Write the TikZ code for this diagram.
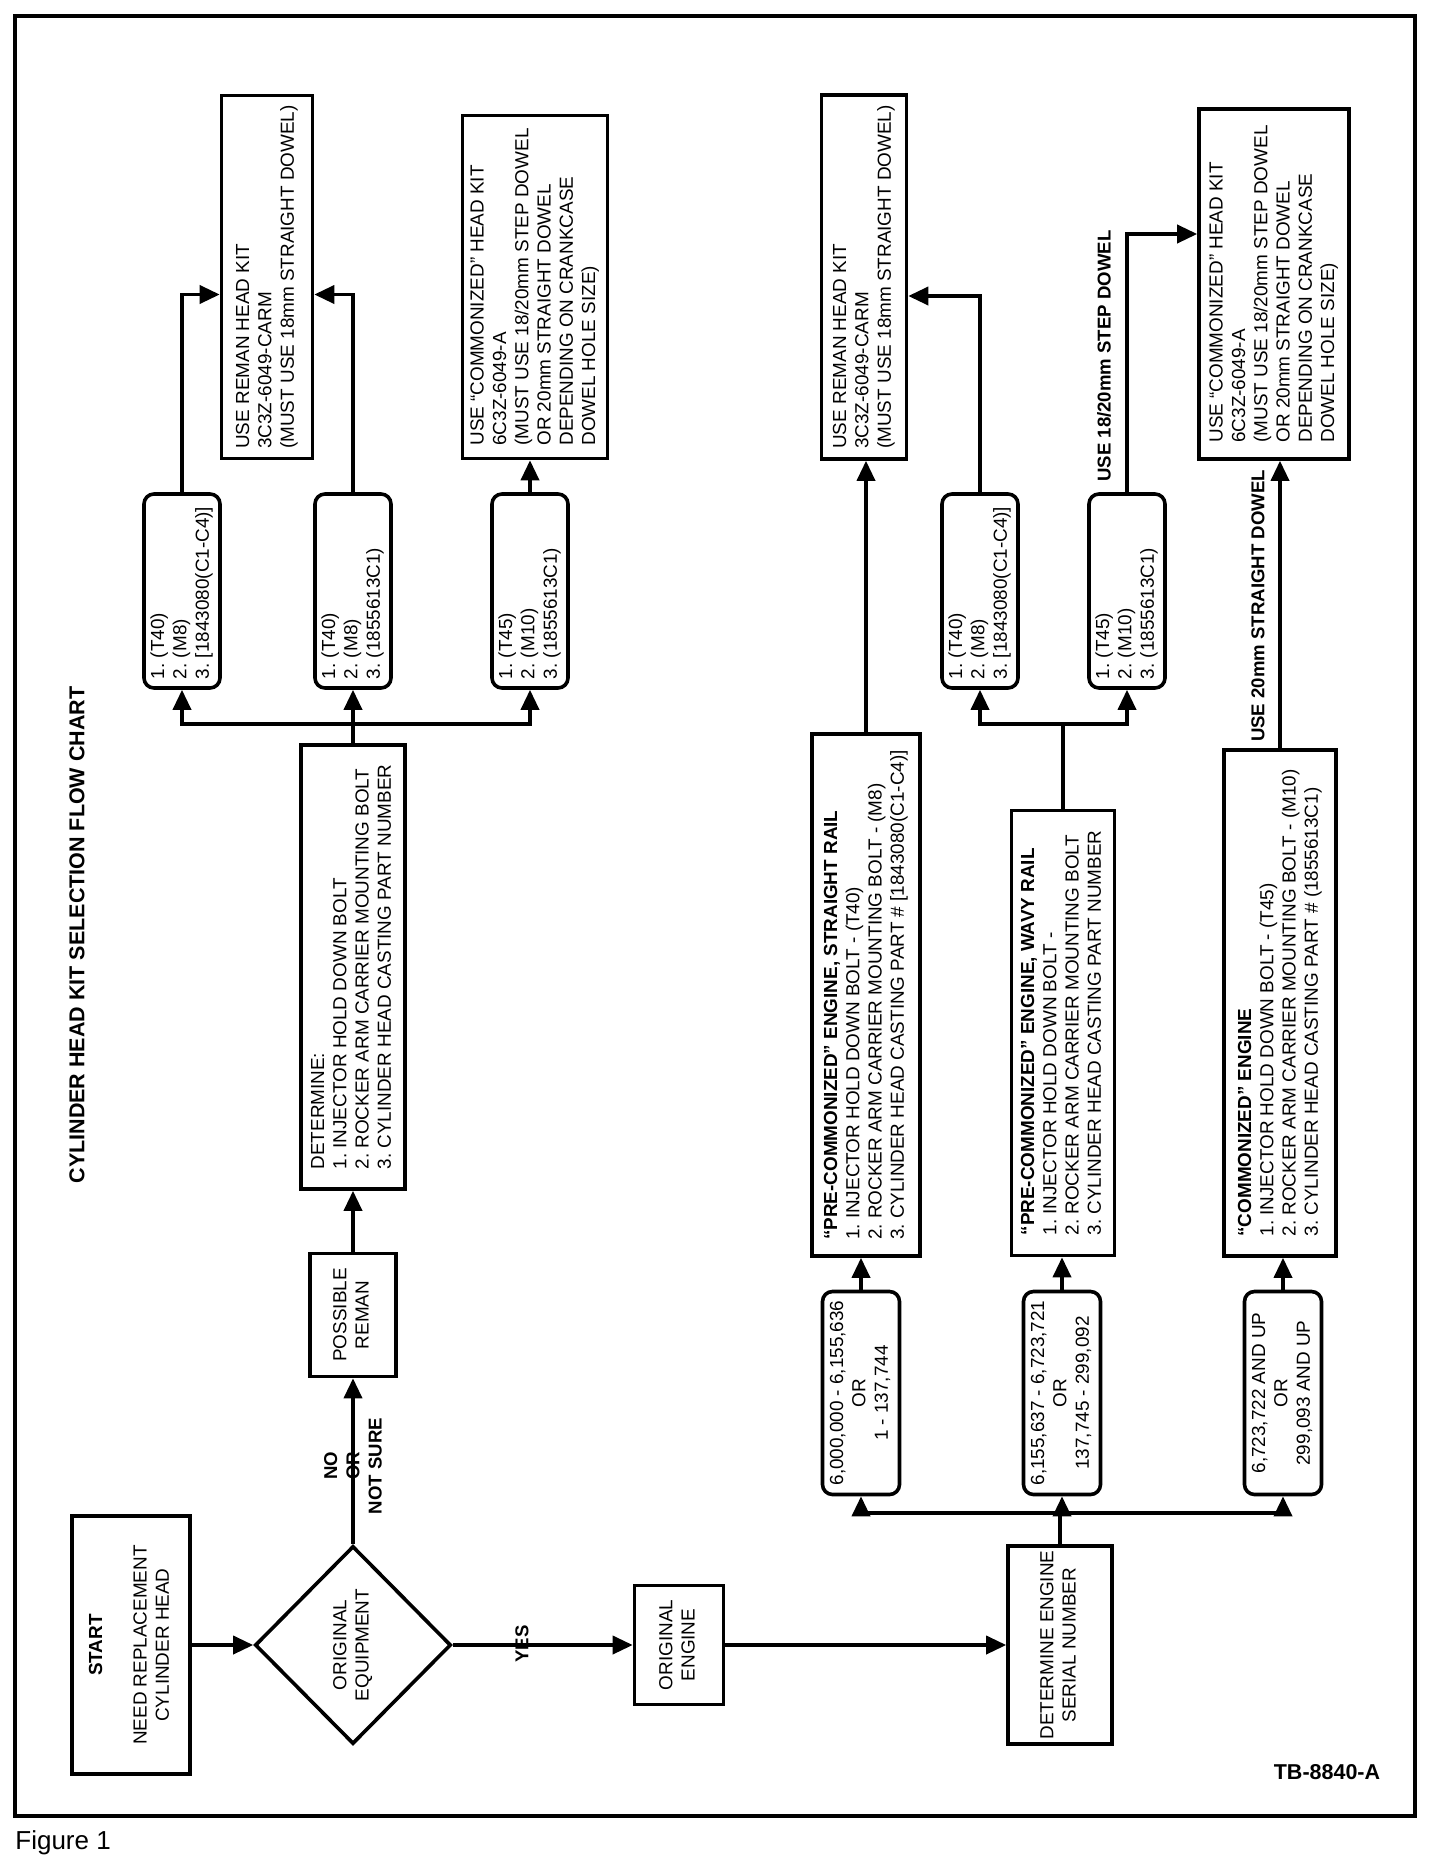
\documentclass[tikz,border=0pt]{standalone}
\usepackage{fontspec}
\setmainfont{Liberation Sans}
\usepackage{graphicx}
\usetikzlibrary{arrows.meta,shapes.geometric}

% text set bottom-to-top inside an upright box
\newcommand{\vtext}[2][c]{\rotatebox{90}{\begin{tabular}{@{}#1@{}}#2\end{tabular}}}

\tikzset{
  blk/.style={draw, line width=1.8pt, inner sep=0pt},
  rblk/.style={blk, rounded corners=5pt},
  dec/.style={blk, diamond},
  conn/.style={line width=1.8pt},
  arr/.style={conn, -{Triangle[length=10pt,width=9pt]}},
  lbl/.style={inner sep=0pt, font=\fontsize{9.3}{11.15}\selectfont\bfseries},
}

\begin{document}
\frenchspacing
\begin{tikzpicture}[x=0.5pt, y=-0.5pt, font=\fontsize{9.45}{11.15}\selectfont]
     \useasboundingbox (0,0) rectangle (1456,1874);
     \draw[line width=1.7pt] (15,16) rectangle (1415,1816);
     \node[lbl, rotate=90, font=\fontsize{10.75}{13}\selectfont\bfseries] (title) at (77,935)
      {CYLINDER HEAD KIT SELECTION FLOW CHART};
     \node[font=\fontsize{10.75}{13}\selectfont\bfseries] (tbno) at (1327,1772) {TB-8840-A};
     \node[anchor=base west, inner sep=0pt, font=\fontsize{13}{15}\selectfont] (fig) at (15,1849) {Figure 1};

     % left part
     \node[blk, minimum width=59pt, minimum height=129pt] (start) at (131,1645)
      {\vtext{\textbf{START}\\ \\NEED REPLACEMENT\\CYLINDER HEAD}};
     \node[dec, minimum width=98pt, minimum height=99pt] (oe) at (353,1645)
      {\vtext{ORIGINAL\\EQUIPMENT}};
     \node[blk, minimum width=43pt, minimum height=61.5pt] (prem) at (353,1315)
      {\vtext{POSSIBLE\\REMAN}};
     \node[blk, minimum width=52pt, minimum height=222pt] (det) at (353,967)
      {\vtext[l]{DETERMINE:\\1. INJECTOR HOLD DOWN BOLT\\2. ROCKER ARM CARRIER MOUNTING BOLT\\3. CYLINDER HEAD CASTING PART NUMBER}};
     \node[rblk, minimum width=38pt, minimum height=97pt] (A1) at (182,591)
      {\vtext[p{88pt}]{1. (T40)\\2. (M8)\\3. [1843080(C1-C4)]}};
     \node[rblk, minimum width=38pt, minimum height=97pt] (A2) at (353,591)
      {\vtext[p{88pt}]{1. (T40)\\2. (M8)\\3. (1855613C1)}};
     \node[rblk, minimum width=38pt, minimum height=97pt] (A3) at (530,591)
      {\vtext[p{88pt}]{1. (T45)\\2. (M10)\\3. (1855613C1)}};
     \node[blk, minimum width=45.5pt, minimum height=181.5pt] (kit1) at (267,277)
      {\vtext[l]{USE REMAN HEAD KIT\\3C3Z-6049-CARM\\(MUST USE 18mm STRAIGHT DOWEL)}};
     \node[blk, minimum width=72.5pt, minimum height=171.5pt] (kit2) at (535,287)
      {\vtext[l]{USE ``COMMONIZED'' HEAD KIT\\6C3Z-6049-A\\(MUST USE 18/20mm STEP DOWEL\\OR 20mm STRAIGHT DOWEL\\DEPENDING ON CRANKCASE\\DOWEL HOLE SIZE)}};

     % right part
     \node[blk, minimum width=44.5pt, minimum height=59.5pt] (oeng) at (679,1645)
      {\vtext{ORIGINAL\\ENGINE}};
     \node[blk, minimum width=52pt, minimum height=99pt] (deng) at (1060,1645)
      {\vtext{DETERMINE ENGINE\\SERIAL NUMBER}};
     \node[rblk, minimum width=38.5pt, minimum height=101.5pt] (B1) at (861,1393)
      {\vtext{6,000,000 - 6,155,636\\OR\\1 - 137,744}};
     \node[rblk, minimum width=38.5pt, minimum height=101.5pt] (B2) at (1062,1393)
      {\vtext{6,155,637 - 6,723,721\\OR\\137,745 - 299,092}};
     \node[rblk, minimum width=38.5pt, minimum height=101.5pt] (B3) at (1283,1393)
      {\vtext{6,723,722 AND UP\\OR\\299,093 AND UP}};
     \node[blk, minimum width=54pt, minimum height=261pt] (C1) at (866,995)
      {\vtext[l]{\textbf{``PRE-COMMONIZED'' ENGINE, STRAIGHT RAIL}\\1. INJECTOR HOLD DOWN BOLT - (T40)\\2. ROCKER ARM CARRIER MOUNTING BOLT - (M8)\\3. CYLINDER HEAD CASTING PART \# [1843080(C1-C4)]}};
     \node[blk, minimum width=51.5pt, minimum height=222.5pt] (C2) at (1063,1033)
      {\vtext[l]{\textbf{``PRE-COMMONIZED'' ENGINE, WAVY RAIL}\\1. INJECTOR HOLD DOWN BOLT -\\2. ROCKER ARM CARRIER MOUNTING BOLT\\3. CYLINDER HEAD CASTING PART NUMBER}};
     \node[blk, minimum width=56pt, minimum height=253pt] (C3) at (1280,1003)
      {\vtext[l]{\textbf{``COMMONIZED'' ENGINE}\\1. INJECTOR HOLD DOWN BOLT - (T45)\\2. ROCKER ARM CARRIER MOUNTING BOLT - (M10)\\3. CYLINDER HEAD CASTING PART \# (1855613C1)}};
     \node[rblk, minimum width=38pt, minimum height=97pt] (D1) at (980,591)
      {\vtext[p{88pt}]{1. (T40)\\2. (M8)\\3. [1843080(C1-C4)]}};
     \node[rblk, minimum width=38pt, minimum height=97pt] (D2) at (1127,591)
      {\vtext[p{88pt}]{1. (T45)\\2. (M10)\\3. (1855613C1)}};
     \node[blk, minimum width=42.5pt, minimum height=182pt] (kit3) at (864,277)
      {\vtext[l]{USE REMAN HEAD KIT\\3C3Z-6049-CARM\\(MUST USE 18mm STRAIGHT DOWEL)}};
     \node[blk, minimum width=75pt, minimum height=175pt] (kit4) at (1274,284)
      {\vtext[l]{USE ``COMMONIZED'' HEAD KIT\\6C3Z-6049-A\\(MUST USE 18/20mm STEP DOWEL\\OR 20mm STRAIGHT DOWEL\\DEPENDING ON CRANKCASE\\DOWEL HOLE SIZE)}};

     % junctions
     \coordinate (jl) at (353,724);
     \coordinate (jr) at (1060,1513);
     \coordinate (jd) at (1063,724);

     % connectors
     \draw[arr] (start.east) -- (oe.west);
     \draw[arr] (oe.north) -- (prem.south);
     \draw[arr] (prem.north) -- (det.south);
     \draw[conn] (det.north) -- (jl);
     \draw[arr] (jl) -| (A1.south);
     \draw[arr] (jl) -- (A2.south);
     \draw[arr] (jl) -| (A3.south);
     \draw[arr] (A1.north) |- ([yshift=-8.75pt]kit1.west);
     \draw[arr] (A2.north) |- ([yshift=-8.75pt]kit1.east);
     \draw[arr] (A3.north) -- (A3.north |- kit2.south);
     \draw[arr] (oe.east) -- (oeng.west);
     \draw[arr] (oeng.east) -- (deng.west);
     \draw[conn] (deng.north) -- (jr);
     \draw[arr] (jr) -| (B1.south);
     \draw[arr] (jr) -| (B2.south);
     \draw[arr] (jr) -| (B3.south);
     \draw[arr] (B1.north) -- (B1.north |- C1.south);
     \draw[arr] (B2.north) -- (B2.north |- C2.south);
     \draw[arr] (B3.north) -- (B3.north |- C3.south);
     \draw[arr] (C1.north) -- (C1.north |- kit3.south);
     \draw[conn] (C2.north) -- (jd);
     \draw[arr] (jd) -| (D1.south);
     \draw[arr] (jd) -| (D2.south);
     \draw[arr] (D1.north) |- ([yshift=-9.5pt]kit3.east);
     \draw[arr] (D2.north) |- ([yshift=25pt]kit4.west);
     \draw[arr] (C3.north) -- (C3.north |- kit4.south);

     % branch labels
     \node[lbl, rotate=90, align=center] (lno) at (353,1466) {NO\\OR\\NOT SURE};
     \node[lbl, rotate=90] (lyes) at (522,1644) {YES};
     \node[lbl, rotate=90] (lstep) at (1104,356) {USE 18/20mm STEP DOWEL};
     \node[lbl, rotate=90] (lstr) at (1258,606) {USE 20mm STRAIGHT DOWEL};
\end{tikzpicture}
\end{document}
